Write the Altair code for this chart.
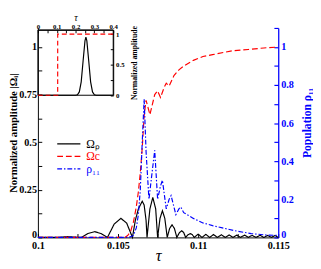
import json
import altair as alt
import pandas as pd

# ---------------- main panel data ----------------
series_names = ["Ωₚ", "Ωc", "ρ₁₁"]
series_colors = ["#000000", "#ff0000", "#0000ff"]
series_dash = [[1, 0], [6, 3], [5, 2, 1.5, 2]]

omega_p_tau = [0.1, 0.1012, 0.10187, 0.10259, 0.10271, 0.10313, 0.10355, 0.10392, 0.10434,
               0.10476, 0.10518, 0.10554, 0.1059, 0.10608, 0.10627, 0.10651, 0.10663, 0.10675, 0.10681,
               0.10699, 0.10717, 0.10735, 0.10747, 0.10762, 0.10777, 0.10792, 0.10807,
               0.10822, 0.10837, 0.10852, 0.10867, 0.10883, 0.10898, 0.1091, 0.10922,
               0.10937, 0.10952, 0.10964, 0.10976,
               0.11, 0.11024, 0.11048, 0.11072, 0.11096, 0.1112, 0.11145, 0.11169, 0.11193, 0.11217,
               0.11241, 0.11265, 0.11289, 0.11313, 0.11337, 0.11361, 0.11386, 0.1141, 0.11434, 0.11458,
               0.11479, 0.115]
omega_p_val = [0, 0, 0.004, 0, 0, 0.021, 0.03, 0.021, 0,
               0.07, 0.10, 0.075, 0, 0.09, 0.15, 0.19, 0.17, 0.09, 0,
               0.15, 0.21, 0.15, 0, 0.10, 0.14, 0.10, 0,
               0.047, 0.066, 0.047, 0, 0.025, 0.035, 0.025, 0,
               0.014, 0.02, 0.014, 0,
               0.017, 0, 0.016, 0, 0.015, 0, 0.014, 0, 0.013, 0,
               0.012, 0, 0.012, 0, 0.011, 0, 0.011, 0, 0.01, 0,
               0.01, 0]

omega_c_tau = [0.1, 0.10542, 0.1056, 0.10578, 0.10596, 0.10614, 0.10627, 0.10639, 0.10651, 0.10663,
               0.10675, 0.10699, 0.10729, 0.10747, 0.10765, 0.10789, 0.10801, 0.10819, 0.10849, 0.1088,
               0.1091, 0.1097, 0.1103, 0.1109, 0.11211, 0.11313, 0.1141, 0.115]
omega_c_val = [0, 0, 0.01, 0.03, 0.08, 0.16, 0.24, 0.34, 0.47, 0.64,
               0.72, 0.645, 0.75, 0.77, 0.735, 0.79, 0.81, 0.795, 0.85, 0.88,
               0.9, 0.93, 0.95, 0.96, 0.98, 0.987, 0.995, 1.0]

rho_tau = [0.1, 0.10566, 0.10596, 0.10614, 0.10627, 0.10639, 0.10651, 0.10663, 0.10675, 0.10693,
           0.10711, 0.10729, 0.10747, 0.10765, 0.10777, 0.10801, 0.10819, 0.10831, 0.10861, 0.1088,
           0.10892, 0.1091, 0.1094, 0.1097, 0.1103, 0.1109, 0.11151, 0.11229, 0.11331, 0.11422,
           0.115]
rho_val = [0, 0, 0.01, 0.05, 0.12, 0.25, 0.5, 0.726, 0.45, 0.2,
           0.33, 0.457, 0.2, 0.27, 0.3, 0.15, 0.2, 0.22, 0.12, 0.15,
           0.16, 0.13, 0.115, 0.1, 0.076, 0.062, 0.05, 0.035, 0.02, 0.013,
           0.01]

# ---------------- inset data ----------------
ins_p_tau = [0, 0.2, 0.21, 0.22, 0.23, 0.24, 0.25, 0.255, 0.26, 0.27, 0.28, 0.29, 0.3, 0.31, 0.4]
ins_p_val = [0, 0, 0.008, 0.054, 0.22, 0.56, 0.89, 0.95, 0.89, 0.56, 0.22, 0.054, 0.008, 0, 0]
ins_c_tau = [0, 0.105, 0.1051, 0.4]
ins_c_val = [0, 0, 1, 1]

# ---------------- axes ticks / labels ----------------
x_domain = [0.1, 0.115]
x_ticks = [0.1, 0.1025, 0.105, 0.1075, 0.11, 0.1125, 0.115]
x_labels = [0.1, 0.105, 0.11, 0.115]
amp_domain = [0, 1.1]
amp_ticks = [0, 0.125, 0.25, 0.375, 0.5, 0.625, 0.75, 0.875, 1.0]
amp_labels = [0, 0.25, 0.5, 0.75, 1.0]
pop_domain = [0, 1.1]
pop_ticks = [0, 0.1, 0.2, 0.3, 0.4, 0.5, 0.6, 0.7, 0.8, 0.9, 1.0, 1.1]
pop_labels = [0, 0.2, 0.4, 0.6, 0.8, 1.0]
ins_x_domain = [0, 0.4]
ins_x_ticks = [0, 0.05, 0.1, 0.15, 0.2, 0.25, 0.3, 0.35, 0.4]
ins_x_labels = [0, 0.1, 0.2, 0.3, 0.4]
ins_y_domain = [0, 1.07]
ins_y_ticks = [0, 0.25, 0.5, 0.75, 1.0]
ins_y_labels = [0, 0.5, 1.0]

W, H = 249, 217
INS_X_RANGE = [0, 78]
INS_Y_RANGE = [69.7, 2]
SERIF = "Liberation Serif"
BLUE = "#0000ff"


def lbl(vals):
    return f"indexof({json.dumps(vals)}, datum.value) >= 0 ? datum.label : ''"


# lift the "0" labels of the vertical axes a little so they clear the x labels
zero_lift = {"condition": {"test": "datum.value == 0", "value": -2.5}, "value": 0}

common = dict(grid=False, format="~g", labelOverlap=False, labelFlush=False,
              labelFont=SERIF, labelFontWeight="bold", titleFont=SERIF)

x_axis = alt.Axis(orient="bottom", values=x_ticks, labelExpr=lbl(x_labels),
                  tickSize=alt.ExprRef(expr="-4"), labelPadding=8, labelFontSize=10.5,
                  domainColor="black", tickColor="black", labelColor="black",
                  title="τ", titleFontStyle="italic", titleFontWeight="normal",
                  titleFontSize=17, titlePadding=alt.ExprRef(expr="-4"), **common)
amp_axis = alt.Axis(orient="left", values=amp_ticks, labelExpr=lbl(amp_labels),
                    tickSize=alt.ExprRef(expr="-4"), labelPadding=5.5, labelFontSize=10.5,
                    labelOffset=zero_lift,
                    domainColor="black", tickColor="black", labelColor="black",
                    title="Normalized amplitude |Ωᵢ|", titleFontWeight="bold",
                    titleFontSize=11, titlePadding=0, **common)
pop_axis = alt.Axis(orient="right", values=pop_ticks, labelExpr=lbl(pop_labels),
                    tickSize=alt.ExprRef(expr="-4.5"), labelPadding=7, labelFontSize=10.5,
                    labelOffset=zero_lift,
                    domainColor=BLUE, tickColor=BLUE, labelColor=BLUE, domainWidth=1.3,
                    tickWidth=1.2, title="Population ρ₁₁", titleColor=BLUE,
                    titleFontWeight="bold", titleFontSize=12, titleAngle=270,
                    titleBaseline="top", titleY=98, titlePadding=9, **common)
ins_x_axis = alt.Axis(orient="top", offset=-2, values=ins_x_ticks, labelExpr=lbl(ins_x_labels),
                      tickSize=alt.ExprRef(expr="-3"), labelPadding=3.5, labelFontSize=7,
                      domainColor="black", tickColor="black", labelColor="black",
                      title="τ", titleFontStyle="italic", titleFontWeight="normal",
                      titleFontSize=10, titlePadding=0, **common)
ins_y_axis = alt.Axis(orient="right", offset=-(W - INS_X_RANGE[1]), values=ins_y_ticks,
                      labelExpr=lbl(ins_y_labels), tickSize=alt.ExprRef(expr="-3"),
                      labelPadding=5.5, labelFontSize=7, domainColor="black", tickColor="black",
                      labelColor="black", title="Normalized amplitude", titleFontWeight="bold",
                      titleFontSize=8, titleAngle=270, titleBaseline="top", titlePadding=7,
                      **common)

x_scale = alt.Scale(domain=x_domain, nice=False, zero=False)
amp_scale = alt.Scale(domain=amp_domain, nice=False)
pop_scale = alt.Scale(domain=pop_domain, nice=False)
ins_x_scale = alt.Scale(domain=ins_x_domain, range=INS_X_RANGE, nice=False)
ins_y_scale = alt.Scale(domain=ins_y_domain, range=INS_Y_RANGE, nice=False)

amp_df = pd.DataFrame({
    "tau": omega_p_tau + omega_c_tau,
    "value": omega_p_val + omega_c_val,
    "series": [series_names[0]] * len(omega_p_tau) + [series_names[1]] * len(omega_c_tau),
})
pop_df = pd.DataFrame({"tau": rho_tau, "value": rho_val, "series": [series_names[2]] * len(rho_tau)})

label_color_expr = (f"datum.label == '{series_names[0]}' ? '{series_colors[0]}' : "
                    f"datum.label == '{series_names[1]}' ? '{series_colors[1]}' : '{series_colors[2]}'")
legend = alt.Legend(orient="none", legendX=19, legendY=114.5, title=None, symbolType="stroke",
                    symbolSize=576, symbolStrokeWidth=1.3, clipHeight=11, rowPadding=0,
                    padding=0, labelOffset=5, labelFont=SERIF, labelFontSize=12,
                    labelColor=alt.ExprRef(expr=label_color_expr))
color = alt.Color("series:N", scale=alt.Scale(domain=series_names, range=series_colors), legend=legend)
dash = alt.StrokeDash("series:N", scale=alt.Scale(domain=series_names, range=series_dash), legend=legend)

lines_amp = alt.Chart(amp_df).mark_line(strokeWidth=1.2).encode(
    x=alt.X("tau:Q", scale=x_scale, axis=x_axis),
    y=alt.Y("value:Q", scale=amp_scale, axis=amp_axis),
    color=color, strokeDash=dash,
)
lines_pop = alt.Chart(pop_df).mark_line(strokeWidth=1.2).encode(
    x=alt.X("tau:Q", scale=x_scale, axis=x_axis),
    y=alt.Y("value:Q", scale=pop_scale, axis=pop_axis),
    color=color, strokeDash=dash,
)
main = alt.layer(lines_amp, lines_pop).resolve_scale(y="independent")

frame_df = pd.DataFrame({"x0": [ins_x_domain[0]], "x1": [ins_x_domain[1]],
                         "y0": [ins_y_domain[0]], "y1": [ins_y_domain[1]]})
ins_frame = alt.Chart(frame_df).mark_rect(fillOpacity=0, stroke="black", strokeWidth=1).encode(
    x=alt.X("x0:Q", scale=ins_x_scale, axis=ins_x_axis), x2="x1:Q",
    y=alt.Y("y0:Q", scale=ins_y_scale, axis=ins_y_axis), y2="y1:Q",
)
ins_p = alt.Chart(pd.DataFrame({"tau": ins_p_tau, "value": ins_p_val})).mark_line(
    color="black", strokeWidth=1.2).encode(
    x=alt.X("tau:Q", scale=ins_x_scale, axis=ins_x_axis),
    y=alt.Y("value:Q", scale=ins_y_scale, axis=ins_y_axis),
)
ins_c = alt.Chart(pd.DataFrame({"tau": ins_c_tau, "value": ins_c_val})).mark_line(
    color="#ff0000", strokeWidth=1.2, strokeDash=[5, 3]).encode(
    x=alt.X("tau:Q", scale=ins_x_scale, axis=ins_x_axis),
    y=alt.Y("value:Q", scale=ins_y_scale, axis=ins_y_axis),
)
inset = alt.layer(ins_frame, ins_p, ins_c)

chart = alt.layer(main, inset).resolve_scale(x="independent", y="independent").properties(
    width=W, height=H, padding=0
).configure_view(strokeWidth=0)

chart.save("out.html", embed_options={"renderer": "svg", "actions": False})
